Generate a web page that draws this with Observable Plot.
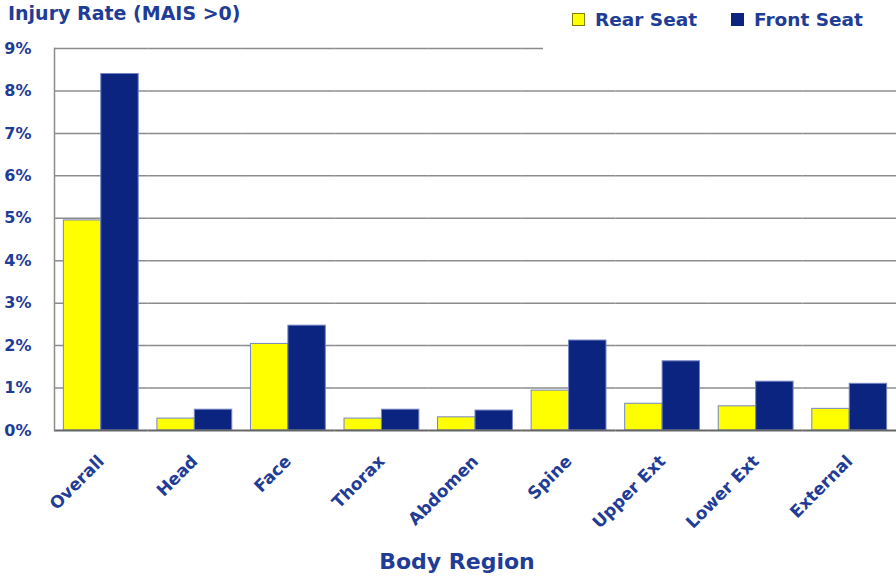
<!DOCTYPE html>
<html>
<head>
<meta charset="utf-8">
<script src="https://cdn.jsdelivr.net/npm/d3@7"></script>
<script src="https://cdn.jsdelivr.net/npm/@observablehq/plot@0.6"></script>
<style>
  body { margin: 0; background: white; }
  #wrap { position: relative; width: 896px; height: 580px; font-family: "DejaVu Sans", sans-serif; font-weight: bold; color: #1f3c96; }
  #title { position: absolute; left: 8px; top: 2px; font-size: 19px; white-space: nowrap; }
  #legend { position: absolute; left: 543px; top: 0; width: 353px; height: 56px; background: white; }
  .item { position: absolute; top: 9px; font-size: 18.5px; white-space: nowrap; display: flex; align-items: center; }
  .sw { display: inline-block; width: 13px; height: 13px; margin-right: 10px; box-sizing: border-box; }
  #xtitle { position: absolute; left: 0; width: 914px; text-align: center; top: 549px; font-size: 22px; }
</style>
</head>
<body>
<div id="wrap">
  <div id="chart"></div>
  <div id="title"></div>
  <div id="legend"></div>
  <div id="xtitle"></div>
</div>
<script>
const regions = ["Overall", "Head", "Face", "Thorax", "Abdomen", "Spine", "Upper Ext", "Lower Ext", "External"];
const rearSeat = [4.95, 0.28, 2.04, 0.28, 0.31, 0.94, 0.63, 0.57, 0.51];
const frontSeat = [8.40, 0.49, 2.47, 0.49, 0.47, 2.12, 1.63, 1.15, 1.10];
const series = ["Rear Seat", "Front Seat"];
const seriesColors = ["#ffff00", "#0a2480"];
const yTicks = [0, 1, 2, 3, 4, 5, 6, 7, 8, 9];
const titleText = "Injury Rate (MAIS >0)";
const xTitleText = "Body Region";

const data = regions.flatMap((r, i) => [
  {region: r, seat: series[0], value: rearSeat[i]},
  {region: r, seat: series[1], value: frontSeat[i]}
]);

const chart = Plot.plot({
  width: 896,
  height: 580,
  marginLeft: 54,
  marginRight: 0,
  marginTop: 48,
  marginBottom: 150,
  style: {fontFamily: "DejaVu Sans, sans-serif", fontWeight: "bold", fontSize: "14px", color: "#1f3c96", background: "white"},
  fx: {domain: regions, padding: 0, round: false, label: null, axis: null},
  x: {domain: series, paddingInner: 0, paddingOuter: 0.25, round: false, axis: null},
  y: {domain: [0, 9], axis: null},
  color: {domain: series, range: seriesColors},
  marks: [
    Plot.ruleY(yTicks.slice(1), {stroke: "#8c8c8c", strokeWidth: 1.5}),
    Plot.barY(data, {fx: "region", x: "seat", y: "value", fill: "seat", stroke: "#7484c4", strokeWidth: 1}),
    Plot.ruleY([0], {stroke: "#666666", strokeWidth: 2}),
    Plot.frame({anchor: "left", facetAnchor: "left", stroke: "#8c8c8c", strokeWidth: 1.5}),
    Plot.axisY(yTicks, {anchor: "left", tickSize: 0, tickPadding: 23, tickFormat: d => d + "%", fontSize: 16, label: null}),
    Plot.axisFx({anchor: "bottom", tickSize: 0, tickRotate: -45, tickPadding: 28, fontSize: 17, label: null})
  ]
});
document.getElementById("chart").appendChild(chart);

document.getElementById("title").textContent = titleText;
document.getElementById("xtitle").textContent = xTitleText;
const legend = document.getElementById("legend");
const lefts = [29, 188];
const borders = ["#808000", "#0a2480"];
series.forEach((s, i) => {
  const it = document.createElement("div");
  it.className = "item";
  it.style.left = lefts[i] + "px";
  const sw = document.createElement("span");
  sw.className = "sw";
  sw.style.background = seriesColors[i];
  sw.style.border = "1px solid " + borders[i];
  it.appendChild(sw);
  it.appendChild(document.createTextNode(s));
  legend.appendChild(it);
});
</script>
</body>
</html>
